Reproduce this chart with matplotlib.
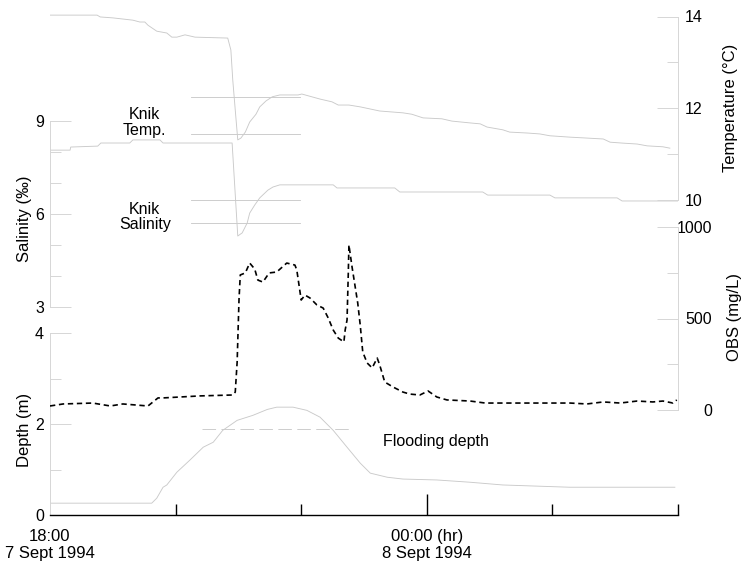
import matplotlib
matplotlib.use("Agg")
import matplotlib.pyplot as plt

plt.rcParams['font.family'] = ['Liberation Sans', 'DejaVu Sans']

# time in hours from midnight 7 Sept 1994 (24 = 00:00 on 8 Sept)
temp_hr = [18.00, 18.75, 18.80, 19.00, 19.32, 19.43, 19.51, 19.56, 19.70, 19.86,
           19.94, 20.02, 20.15, 20.31, 20.83, 20.88, 20.91, 20.95, 20.99, 21.04,
           21.11, 21.18, 21.28, 21.34, 21.44, 21.54, 21.66, 21.82, 21.95, 22.01,
           22.30, 22.49, 22.59, 22.76, 22.94, 23.25, 23.62, 23.76, 23.94, 24.24,
           24.40, 24.69, 24.85, 24.96, 25.21, 25.32, 25.60, 25.80, 25.96, 26.28,
           26.55, 26.81, 26.92, 27.12, 27.35, 27.51, 27.76, 27.87]
temp_c = [14.03, 14.03, 13.99, 13.97, 13.92, 13.88, 13.88, 13.81, 13.68, 13.64,
          13.55, 13.55, 13.60, 13.55, 13.53, 13.27, 12.62, 11.96, 11.31, 11.35,
          11.48, 11.70, 11.87, 12.03, 12.16, 12.25, 12.29, 12.29, 12.29, 12.31,
          12.20, 12.14, 12.07, 12.07, 12.03, 11.94, 11.90, 11.87, 11.79, 11.77,
          11.72, 11.68, 11.66, 11.59, 11.53, 11.48, 11.46, 11.44, 11.40, 11.37,
          11.35, 11.33, 11.26, 11.24, 11.22, 11.18, 11.16, 11.13]

sal_hr = [18.00, 18.32, 18.33, 18.76, 18.81, 19.27, 19.32, 19.75, 19.80, 20.90,
          20.99, 21.06, 21.14, 21.18, 21.26, 21.34, 21.47, 21.55, 21.66, 22.51,
          22.57, 23.49, 23.57, 24.89, 24.97, 25.96, 26.04, 27.03, 27.11, 28.00]
sal_ppt = [8.06, 8.06, 8.16, 8.19, 8.29, 8.29, 8.39, 8.39, 8.29, 8.29,
           5.29, 5.39, 5.71, 6.03, 6.29, 6.52, 6.77, 6.87, 6.94, 6.94,
           6.84, 6.84, 6.71, 6.71, 6.61, 6.61, 6.52, 6.52, 6.42, 6.42]

depth_hr = [18.00, 19.62, 19.70, 19.80, 19.86, 20.02, 20.23, 20.44, 20.60, 20.75,
            20.98, 21.23, 21.46, 21.61, 21.87, 22.09, 22.30, 22.51, 22.73, 22.94,
            23.10, 23.37, 23.62, 24.16, 24.69, 25.21, 26.28, 27.95]
depth_m = [0.26, 0.26, 0.37, 0.61, 0.66, 0.94, 1.21, 1.49, 1.60, 1.86,
           2.08, 2.19, 2.32, 2.37, 2.37, 2.30, 2.15, 1.86, 1.49, 1.14,
           0.92, 0.83, 0.79, 0.77, 0.72, 0.66, 0.61, 0.61]

obs_hr = [18.00, 18.21, 18.68, 18.96, 19.16, 19.56, 19.72, 19.80, 20.39, 20.91,
          20.95, 20.98, 21.01, 21.03, 21.11, 21.18, 21.26, 21.31, 21.39, 21.49,
          21.61, 21.77, 21.90, 21.93, 22.00, 22.06, 22.14, 22.25, 22.35, 22.43,
          22.51, 22.59, 22.68, 22.70, 22.73, 22.75, 22.76, 22.81, 22.86, 22.90,
          22.94, 22.98, 23.05, 23.13, 23.21, 23.25, 23.33, 23.46, 23.62, 23.73,
          23.89, 24.02, 24.16, 24.32, 24.69, 24.93, 25.48, 26.01, 26.28, 26.55,
          26.81, 27.08, 27.35, 27.60, 27.76, 27.92, 27.98]
obs_mgl = [22, 33, 38, 22, 33, 22, 66, 66, 77, 82,
           98, 262, 607, 738, 749, 803, 770, 710, 699, 749,
           754, 803, 792, 765, 601, 628, 612, 574, 557, 503,
           437, 393, 372, 437, 492, 749, 902, 781, 672, 585,
           464, 317, 257, 230, 284, 246, 153, 126, 98, 87,
           82, 104, 71, 55, 49, 38, 38, 38, 38, 33,
           44, 38, 49, 44, 49, 38, 55]

# Knik Arm reference values and flooding depth
knik_temp = [12.25, 11.44]
knik_sal = [6.45, 5.71]
knik_hr = [20.24, 21.98]
flood_depth = 1.89
flood_hr = [20.42, 22.78]

W, H = 742, 564
GRAY = '#cacaca'
AXGRAY = '#d6d6d6'

fig = plt.figure(figsize=(W / 100, H / 100), dpi=100)
rect = [50 / W, (H - 515) / H, 628 / W, 505 / H]


def ylim_from(v1, p1, v2, p2):
    # limits so that value v1 lands on pixel row p1 and v2 on p2
    scale = (p1 - p2) / (v2 - v1)
    return v1 - (515 - p1) / scale, v1 + (p1 - 10) / scale


def setup(ax, side, bounds, major, minor, lim, pad):
    ax.set_xlim(18, 28)
    ax.set_ylim(*lim)
    ax.patch.set_visible(False)
    for s in ax.spines.values():
        s.set_visible(False)
    sp = ax.spines[side]
    sp.set_visible(True)
    sp.set_bounds(*bounds)
    sp.set_color(AXGRAY)
    sp.set_linewidth(0.7)
    ax.yaxis.set_ticks_position(side)
    ax.set_yticks(major)
    ax.set_yticks(minor, minor=True)
    ax.tick_params(axis='y', which='both', direction='in', color=AXGRAY,
                   width=0.7, labelsize=11.5, pad=pad)
    ax.tick_params(axis='y', which='major', length=15)
    ax.tick_params(axis='y', which='minor', length=8)
    ax.xaxis.set_visible(False)


ax_d = fig.add_axes(rect)
ax_s = fig.add_axes(rect)
ax_t = fig.add_axes(rect)
ax_o = fig.add_axes(rect)

setup(ax_d, 'left', (0, 4), [0, 2, 4], [1, 3], ylim_from(0, 515, 4, 333), 4.3)
setup(ax_s, 'left', (3, 9), [3, 6, 9], [4, 5, 7, 8], ylim_from(3, 307, 9, 121), 4.3)
setup(ax_t, 'right', (10, 14), [10, 12, 14], [11, 13], ylim_from(10, 200, 14, 16.5), 5)
setup(ax_o, 'right', (0, 1000), [0, 500, 1000], [250, 750], ylim_from(0, 410, 1000, 227), 24.5)
for lab in ax_o.get_yticklabels():
    lab.set_horizontalalignment('right')

# time axis
ax_d.xaxis.set_visible(True)
ax_d.spines['bottom'].set_visible(True)
ax_d.spines['bottom'].set_color('black')
ax_d.spines['bottom'].set_linewidth(1.0)
ax_d.set_xticks([18, 24], ['18:00\n7 Sept 1994', '00:00 (hr)\n8 Sept 1994'])
ax_d.set_xticks([20, 22, 26, 28], minor=True)
ax_d.tick_params(axis='x', which='both', direction='in', color='black', width=1,
                 labelsize=12, pad=10)
ax_d.tick_params(axis='x', which='major', length=15)
ax_d.tick_params(axis='x', which='minor', length=8)
ax_d.xaxis.get_major_ticks()[0].tick1line.set_visible(False)

# data
ax_d.plot(depth_hr, depth_m, color=GRAY, lw=0.65)
ax_d.plot(flood_hr, [flood_depth] * 2, color=GRAY, lw=0.65, dashes=(15, 6))
ax_s.plot(sal_hr, sal_ppt, color=GRAY, lw=0.65)
for v in knik_sal:
    ax_s.plot(knik_hr, [v, v], color=GRAY, lw=0.65)
ax_t.plot(temp_hr, temp_c, color=GRAY, lw=0.65)
for v in knik_temp:
    ax_t.plot(knik_hr, [v, v], color=GRAY, lw=0.65)
ax_o.plot(obs_hr, obs_mgl, color='black', lw=1.2, dashes=(3.2, 2.2))

# annotations
ax_t.text(19.51, 11.69, 'Knik\nTemp.', ha='center', va='center', fontsize=11.5,
          linespacing=1.05)
ax_s.text(19.51, 5.90, 'Knik\nSalinity', ha='center', va='center', fontsize=11.5,
          linespacing=1.05)
ax_d.text(23.30, 1.62, 'Flooding depth', ha='left', va='center', fontsize=11.5)

# axis titles
fig.text(25 / W, 1 - 219 / H, 'Salinity (‰)', rotation=90, ha='center', va='center', fontsize=12)
fig.text(25 / W, 1 - 430 / H, 'Depth (m)', rotation=90, ha='center', va='center', fontsize=12)
fig.text(730 / W, 1 - 108 / H, 'Temperature (°C)', rotation=90, ha='center', va='center', fontsize=12)
fig.text(734 / W, 1 - 317 / H, 'OBS (mg/L)', rotation=90, ha='center', va='center', fontsize=12)

fig.savefig('out.png', dpi=100)
